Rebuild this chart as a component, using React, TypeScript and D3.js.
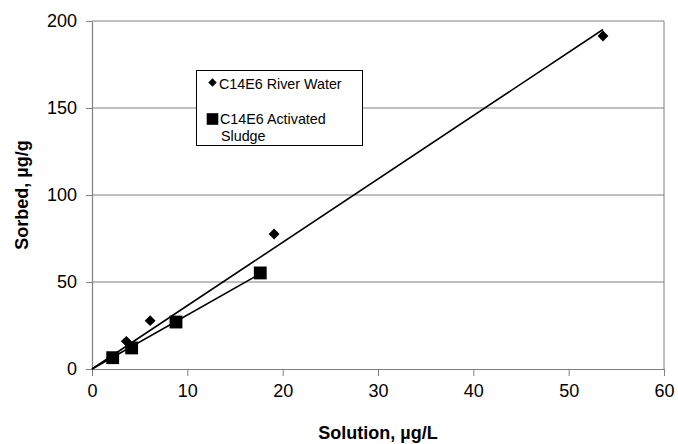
import * as d3 from 'd3';
import { useEffect, useRef } from 'react';

// values
const riverX = [3.6, 6.1, 19.1, 53.6];
const riverY = [15.9, 27.8, 77.6, 191.4];
const sludgeX = [2.17, 4.16, 8.81, 17.65];
const sludgeY = [6.5, 12.1, 27, 55.2];
const xTicks = [0, 10, 20, 30, 40, 50, 60];
const yTicks = [0, 50, 100, 150, 200];
const legendLabels = ['C14E6 River Water', 'C14E6 Activated', 'Sludge'];

const FONT = '"Liberation Sans", Arial, sans-serif';
const GRAY = '#808080';

// least squares fit forced through the origin
const slopeThroughZero = (xs: number[], ys: number[]) =>
  d3.sum(xs, (x, i) => x * ys[i]) / d3.sum(xs, (x) => x * x);

export default function App() {
  const svgRef = useRef<SVGSVGElement>(null);

  useEffect(() => {
    const width = 678;
    const height = 444;
    const margin = { top: 21, right: 14, bottom: 75, left: 92 };
    const innerW = width - margin.left - margin.right;
    const innerH = height - margin.top - margin.bottom;

    const x = d3.scaleLinear().domain([0, 60]).range([0, innerW]);
    const y = d3.scaleLinear().domain([0, 200]).range([innerH, 0]);

    const root = d3.select(svgRef.current);
    root.selectAll('*').remove();
    const svg = root
      .append('g')
      .attr('transform', 'translate(' + margin.left + ',' + margin.top + ')');

    // horizontal gridlines
    svg
      .selectAll('.grid')
      .data(yTicks.filter((t) => t > 0))
      .enter()
      .append('line')
      .attr('x1', 0)
      .attr('x2', innerW)
      .attr('y1', (d) => y(d))
      .attr('y2', (d) => y(d))
      .attr('stroke', GRAY)
      .attr('stroke-width', 1);

    // right border of plot area
    svg
      .append('line')
      .attr('x1', innerW)
      .attr('x2', innerW)
      .attr('y1', 0)
      .attr('y2', innerH)
      .attr('stroke', GRAY);

    // axes
    const xAxis = svg
      .append('g')
      .attr('transform', 'translate(0,' + innerH + ')')
      .call(d3.axisBottom(x).tickValues(xTicks).tickSize(7).tickPadding(8).tickSizeOuter(0));
    const yAxis = svg
      .append('g')
      .call(d3.axisLeft(y).tickValues(yTicks).tickSize(6).tickPadding(9).tickSizeOuter(0));
    [xAxis, yAxis].forEach((ax) => {
      ax.select('.domain').attr('stroke', GRAY).attr('stroke-width', 1.2);
      ax.selectAll('.tick line').attr('stroke', GRAY);
      ax.selectAll('.tick text')
        .attr('font-family', FONT)
        .attr('font-size', 18)
        .attr('fill', '#000');
    });

    // trendlines
    const series = [
      { xs: riverX, ys: riverY },
      { xs: sludgeX, ys: sludgeY },
    ];
    series.forEach((s) => {
      const m = slopeThroughZero(s.xs, s.ys);
      const xMax = d3.max(s.xs) as number;
      svg
        .append('line')
        .attr('x1', x(0))
        .attr('y1', y(0))
        .attr('x2', x(xMax))
        .attr('y2', y(m * xMax))
        .attr('stroke', '#000')
        .attr('stroke-width', 1.6);
    });

    const diamond = d3.symbol().type(d3.symbolDiamond2).size(75);
    const square = d3.symbol().type(d3.symbolSquare).size(165);

    svg
      .selectAll('.sq')
      .data(sludgeX)
      .enter()
      .append('path')
      .attr('d', square)
      .attr('transform', (d, i) => 'translate(' + x(d) + ',' + y(sludgeY[i]) + ')')
      .attr('fill', '#000');

    svg
      .selectAll('.dm')
      .data(riverX)
      .enter()
      .append('path')
      .attr('d', diamond)
      .attr('transform', (d, i) => 'translate(' + x(d) + ',' + y(riverY[i]) + ')')
      .attr('fill', '#000');

    // legend
    const lg = root.append('g');
    lg.append('rect')
      .attr('x', 196.5)
      .attr('y', 70.5)
      .attr('width', 166)
      .attr('height', 75)
      .attr('fill', '#fff')
      .attr('stroke', '#000')
      .attr('stroke-width', 1);
    lg.append('path')
      .attr('d', d3.symbol().type(d3.symbolDiamond2).size(45))
      .attr('transform', 'translate(212.5,82.5)')
      .attr('fill', '#000');
    lg.append('path')
      .attr('d', d3.symbol().type(d3.symbolSquare).size(135))
      .attr('transform', 'translate(212.5,119)')
      .attr('fill', '#000');
    const lines = [
      { t: legendLabels[0], x: 219, y: 88.5 },
      { t: legendLabels[1], x: 220, y: 124 },
      { t: legendLabels[2], x: 221, y: 140.5 },
    ];
    lines.forEach((l) => {
      lg.append('text')
        .attr('x', l.x)
        .attr('y', l.y)
        .attr('font-family', FONT)
        .attr('font-size', 14.3)
        .attr('fill', '#000')
        .text(l.t);
    });

    // axis titles
    root
      .append('text')
      .attr('x', margin.left + innerW / 2)
      .attr('y', 439)
      .attr('text-anchor', 'middle')
      .attr('font-family', FONT)
      .attr('font-weight', 'bold')
      .attr('font-size', 18)
      .text('Solution, µg/L');
    root
      .append('text')
      .attr('transform', 'translate(28,' + (margin.top + innerH / 2) + ') rotate(-90)')
      .attr('text-anchor', 'middle')
      .attr('font-family', FONT)
      .attr('font-weight', 'bold')
      .attr('font-size', 18)
      .text('Sorbed, µg/g');
  }, []);

  return (
    <svg
      ref={svgRef}
      width={678}
      height={444}
      style={{ position: 'absolute', left: 0, top: 0, background: '#fff' }}
    ></svg>
  );
}
